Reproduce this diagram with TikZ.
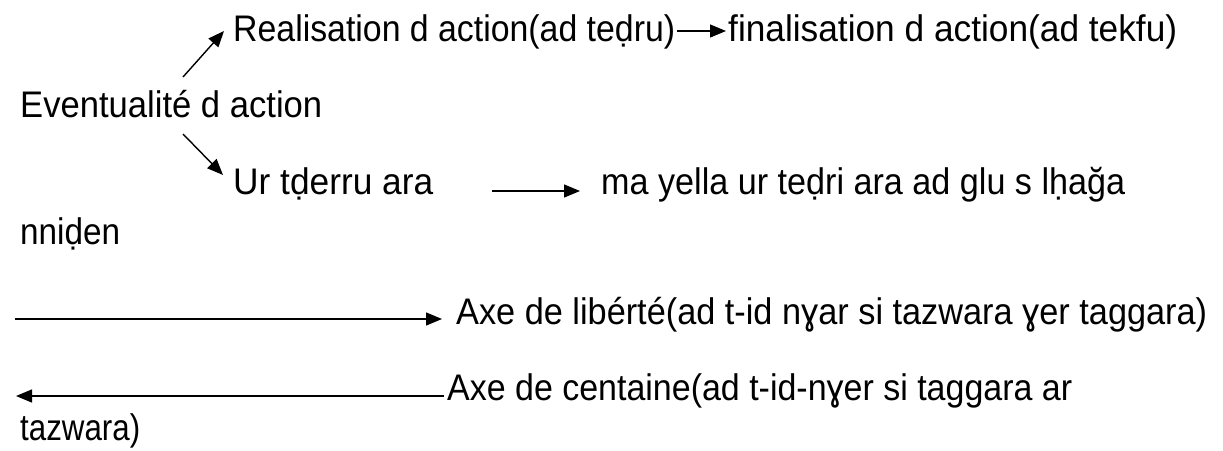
\documentclass[tikz,border=0pt]{standalone}
\usepackage{graphicx}
\usepackage{fontspec}
\setmainfont{Liberation Sans}[FakeStretch=0.82]
\usetikzlibrary{arrows.meta}
\newcommand{\fitw}[2]{\resizebox{#1pt}{\height}{#2}}
\begin{document}
\begin{tikzpicture}[x=1pt,y=-1pt,
  txt/.style={anchor=base west, inner sep=0pt, font=\fontsize{37}{42}\selectfont},
  arr/.style={-{Triangle[length=16pt,width=13pt]}, line width=1.4pt}]
\useasboundingbox (0,0) rectangle (1223,450);
\node[txt] (real) at (233,41) {\fitw{442}{Realisation d action(ad teḍru)}};
\node[txt] (fin) at (728,41) {\fitw{449}{finalisation d action(ad tekfu)}};
\node[txt] (ev) at (20,117) {\fitw{302}{Eventualité d action}};
\node[txt] (ur) at (233,194) {\fitw{200}{Ur tḍerru ara}};
\node[txt] (ma) at (601,194) {\fitw{524}{ma yella ur teḍri ara ad glu s lḥağa}};
\node[txt] (nn) at (20,244) {\fitw{100}{nniḍen}};
\node[txt] (axe1) at (456,324) {\fitw{751}{Axe de libérté(ad t-id nɣar si tazwara ɣer taggara)}};
\node[txt] (axe2) at (447,400) {\fitw{625}{Axe de centaine(ad t-id-nɣer si taggara ar}};
\node[txt] (taz) at (20,440) {\fitw{120}{tazwara)}};
\coordinate (up0) at (183,77);
\coordinate (up1) at (224,31);
\coordinate (dn0) at (183,134);
\coordinate (dn1) at (223,175);
\coordinate (m0) at (492,191);
\coordinate (m1) at (580,191);
\coordinate (l5) at (15,319);
\coordinate (l5e) at (442,319);
\coordinate (l6) at (16,396);
\draw[arr] (up0) -- (up1);
\draw[arr] (dn0) -- (dn1);
\draw[arr] ([xshift=2pt]real.east |- 0,31) -- ([xshift=-2pt]fin.west |- 0,31);
\draw[arr] (m0) -- (m1);
\draw[arr] (l5) -- (l5e);
\draw[arr] ([xshift=-3pt]axe2.west |- l6) -- (l6);
\end{tikzpicture}
\end{document}
